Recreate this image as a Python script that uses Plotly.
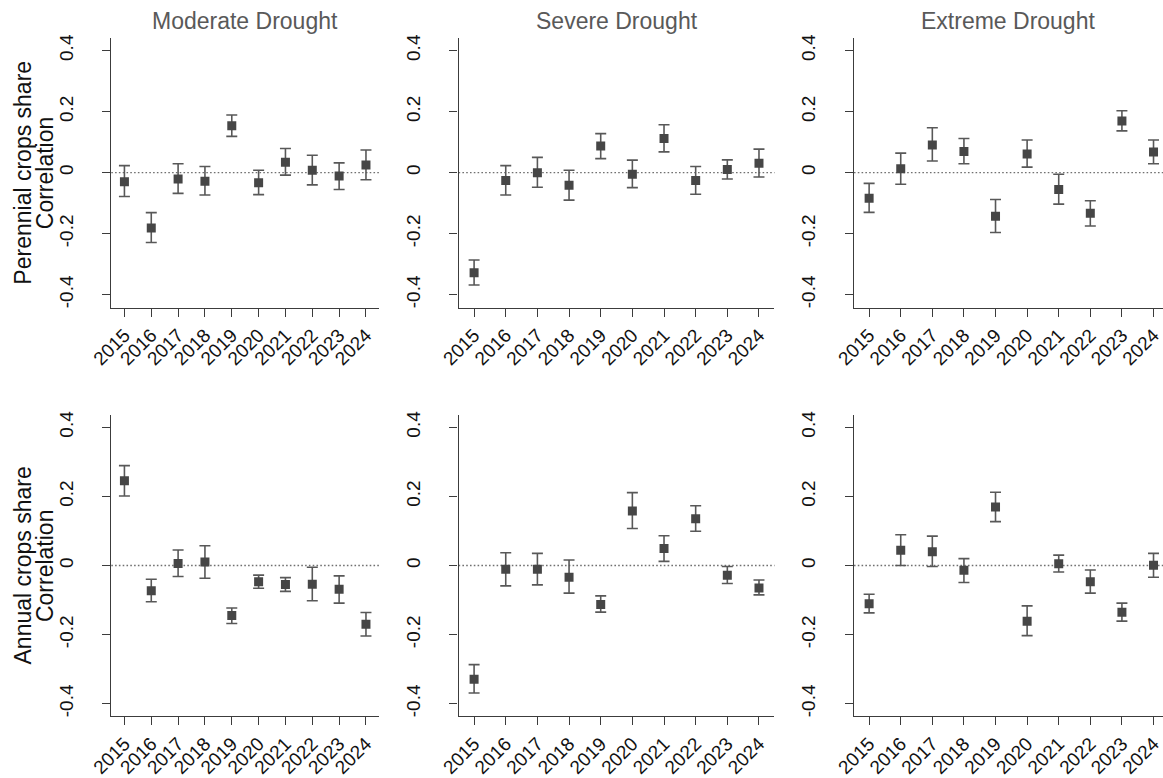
import plotly.graph_objects as go

years = [2015, 2016, 2017, 2018, 2019, 2020, 2021, 2022, 2023, 2024]
year_labels = [str(y) for y in years]
col_titles = ["Moderate Drought", "Severe Drought", "Extreme Drought"]
row_titles = [["Perennial crops share", "Correlation"], ["Annual crops share", "Correlation"]]

# Perennial crops share (top row): estimate, lower CI, upper CI
per_mod_est = [-0.030, -0.181, -0.021, -0.028, 0.154, -0.033, 0.034, 0.008, -0.011, 0.025]
per_mod_lo = [-0.078, -0.229, -0.068, -0.073, 0.119, -0.072, -0.008, -0.040, -0.055, -0.023]
per_mod_hi = [0.023, -0.131, 0.029, 0.020, 0.189, 0.008, 0.079, 0.057, 0.032, 0.074]

per_sev_est = [-0.328, -0.026, 0.000, -0.041, 0.087, -0.005, 0.112, -0.026, 0.010, 0.031]
per_sev_lo = [-0.368, -0.073, -0.048, -0.090, 0.046, -0.049, 0.068, -0.071, -0.021, -0.014]
per_sev_hi = [-0.286, 0.023, 0.050, 0.008, 0.128, 0.041, 0.157, 0.020, 0.042, 0.077]

per_ext_est = [-0.084, 0.013, 0.091, 0.069, -0.143, 0.061, -0.055, -0.133, 0.169, 0.068]
per_ext_lo = [-0.130, -0.038, 0.038, 0.029, -0.196, 0.018, -0.103, -0.175, 0.137, 0.029]
per_ext_hi = [-0.035, 0.064, 0.147, 0.112, -0.088, 0.107, -0.005, -0.092, 0.203, 0.107]

# Annual crops share (bottom row)
ann_mod_est = [0.245, -0.073, 0.006, 0.010, -0.145, -0.047, -0.055, -0.054, -0.069, -0.170]
ann_mod_lo = [0.201, -0.105, -0.032, -0.037, -0.168, -0.066, -0.075, -0.102, -0.109, -0.204]
ann_mod_hi = [0.289, -0.040, 0.045, 0.057, -0.123, -0.028, -0.035, -0.005, -0.030, -0.136]

ann_sev_est = [-0.329, -0.011, -0.011, -0.034, -0.113, 0.158, 0.049, 0.135, -0.028, -0.065]
ann_sev_lo = [-0.369, -0.059, -0.056, -0.080, -0.135, 0.107, 0.012, 0.099, -0.052, -0.085]
ann_sev_hi = [-0.287, 0.037, 0.035, 0.016, -0.088, 0.211, 0.086, 0.173, -0.003, -0.042]

ann_ext_est = [-0.111, 0.044, 0.040, -0.014, 0.169, -0.161, 0.005, -0.047, -0.135, 0.001]
ann_ext_lo = [-0.137, 0.000, -0.003, -0.049, 0.127, -0.203, -0.019, -0.080, -0.161, -0.034]
ann_ext_hi = [-0.083, 0.089, 0.085, 0.020, 0.212, -0.117, 0.030, -0.013, -0.109, 0.035]

panels = [
    [(per_mod_est, per_mod_lo, per_mod_hi), (per_sev_est, per_sev_lo, per_sev_hi), (per_ext_est, per_ext_lo, per_ext_hi)],
    [(ann_mod_est, ann_mod_lo, ann_mod_hi), (ann_sev_est, ann_sev_lo, ann_sev_hi), (ann_ext_est, ann_ext_lo, ann_ext_hi)],
]

W, H = 1163, 778
FONT = "Liberation Sans, Arial, sans-serif"
x_dom_px = [(91, 364), (445, 767), (848, 1163)]
x_ranges = [[2014.51, 2024.49], [2014.51, 2024.49], [2014.52, 2024.30]]
y_dom_px = [(34.3, 308.3), (417.3, 723.3)]
y_ranges = [[-0.442, 0.442], [-0.436, 0.436]]

fig = go.Figure()
layout = {}
shapes = []
annotations = []
k = 0
for r in range(2):
    for c in range(3):
        k += 1
        xa = "x" if k == 1 else f"x{k}"
        ya = "y" if k == 1 else f"y{k}"
        est, lo, hi = panels[r][c]
        plus = [h - e for h, e in zip(hi, est)]
        minus = [e - l for e, l in zip(est, lo)]
        fig.add_trace(go.Scatter(
            x=years, y=est, mode="markers", xaxis=xa, yaxis=ya,
            marker=dict(symbol="square", size=9, color="#464646"),
            error_y=dict(type="data", symmetric=False, array=plus, arrayminus=minus,
                         color="#585858", thickness=1.6, width=5.5),
            showlegend=False, hoverinfo="x+y"))
        x0, x1 = x_dom_px[c]
        y0, y1 = y_dom_px[r]
        layout["xaxis" if k == 1 else f"xaxis{k}"] = dict(
            domain=[x0 / W, x1 / W], range=x_ranges[c], anchor=ya,
            tickvals=years, ticktext=year_labels, tickangle=-45,
            ticklabeloverflow="allow",
            showline=True, linecolor="#3c3c3c", linewidth=1.2,
            ticks="outside", ticklen=8, tickcolor="#3c3c3c", tickwidth=1.2,
            showgrid=False, zeroline=False,
            tickfont=dict(family=FONT, size=19, color="#111111"))
        layout["yaxis" if k == 1 else f"yaxis{k}"] = dict(
            domain=[1 - y1 / H, 1 - y0 / H], range=y_ranges[r], anchor=xa,
            tickvals=[-0.4, -0.2, 0, 0.2, 0.4], ticktext=["-0.4", "-0.2", "0", "0.2", "0.4"],
            tickangle=-90,
            showline=True, linecolor="#3c3c3c", linewidth=1.2,
            ticks="outside", ticklen=8, tickcolor="#3c3c3c", tickwidth=1.2,
            ticklabelstandoff=22,
            showgrid=False, zeroline=False,
            tickfont=dict(family=FONT, size=19, color="#111111"))
        shapes.append(dict(type="line", xref=f"{xa} domain", yref=ya, x0=0, x1=1, y0=0, y1=0,
                           line=dict(color="#707070", width=1.4, dash="1.6px,2.2px"), layer="below"))
        if r == 0:
            annotations.append(dict(text=col_titles[c], xref="paper", yref="paper",
                                    x=(x0 + x1) / 2 / W, y=1 - 17 / H, xanchor="center", yanchor="middle",
                                    showarrow=False, font=dict(family=FONT, size=23, color="#595959")))
    yc = (y_dom_px[r][0] + y_dom_px[r][1]) / 2
    for line_txt, xc in zip(row_titles[r], [1, 23]):
        annotations.append(dict(text=line_txt, xref="paper", yref="paper",
                                x=xc / W, y=1 - yc / H, xanchor="center", yanchor="middle",
                                textangle=-90, showarrow=False,
                                font=dict(family=FONT, size=23, color="#111111")))

fig.update_layout(width=W, height=H, margin=dict(l=0, r=0, t=0, b=0),
                  paper_bgcolor="white", plot_bgcolor="white",
                  shapes=shapes, annotations=annotations, **layout)
fig.write_html("out.html")
